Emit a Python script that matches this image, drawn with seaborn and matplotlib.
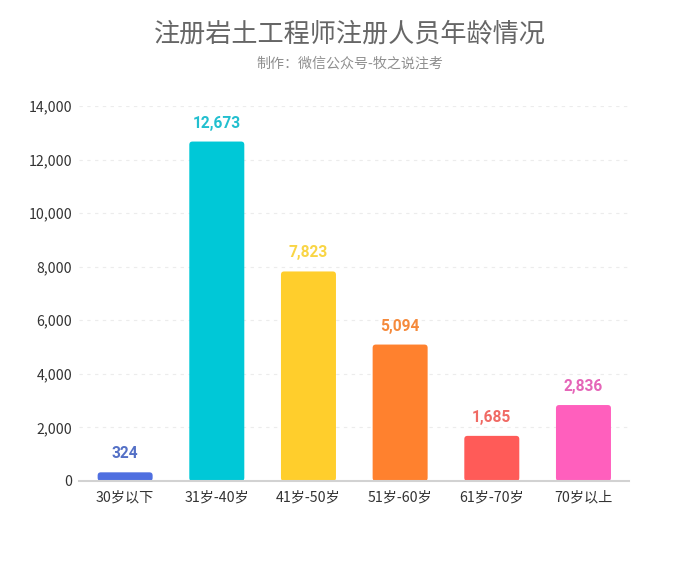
import seaborn as sns
import matplotlib.pyplot as plt
from matplotlib.patches import FancyBboxPatch
from matplotlib.ticker import FuncFormatter

age_groups = ['30岁以下', '31岁-40岁', '41岁-50岁', '51岁-60岁', '61岁-70岁', '70岁以上']
people = [324, 12673, 7823, 5094, 1685, 2836]
bar_colors = ['#4f6fe0', '#00c8d7', '#ffce2c', '#ff812e', '#ff5b58', '#ff5fbd']
label_colors = ['#5470c6', '#22bfcf', '#f9d545', '#f58a3c', '#f06a64', '#e565b8']
y_ticks = [0, 2000, 4000, 6000, 8000, 10000, 12000, 14000]

W, H = 700, 576

sns.set_theme(style='white')
plt.rcParams['font.family'] = ['Noto Sans CJK SC', 'DejaVu Sans']

fig = plt.figure(figsize=(W / 100, H / 100), dpi=100)
ax = fig.add_axes([79.3 / W, 1 - 481 / H, 550 / W, 375 / H])

sns.barplot(x=age_groups, y=people, hue=age_groups, palette=bar_colors,
            width=0.6, legend=False, dodge=False, ax=ax)

ax.set_ylim(0, 14000)
ax.set_xlim(-0.5, 5.5)
ax.set_yticks(y_ticks)
ax.yaxis.set_major_formatter(FuncFormatter(lambda v, p: f'{int(v):,}'))

# swap the square bars for rounded ones, same geometry
aspect = 14000 / 375 / (6 / 550)
for bar, col in zip(list(ax.patches), bar_colors):
    x, w, h = bar.get_x(), bar.get_width(), bar.get_height()
    bar.set_visible(False)
    r = min(0.035, h / aspect / 2)
    ax.add_patch(FancyBboxPatch((x, 0), w, h, boxstyle=f'round,pad=0,rounding_size={r}',
                                mutation_aspect=aspect, fc=col, ec='none', zorder=3))

for i, v in enumerate(people):
    ax.annotate(f'{v:,}', (i, v), xytext=(0, 11), textcoords='offset pixels',
                ha='center', va='bottom', fontsize=11.2, fontweight='bold',
                family='Roboto', color=label_colors[i])

ax.grid(axis='y', color='#ececec', lw=0.8, ls=(0, (3, 4)))
ax.set_axisbelow(True)
sns.despine(ax=ax, left=True)
ax.spines['bottom'].set_color('#d2d2d2')
ax.spines['bottom'].set_linewidth(1.5)
ax.spines['bottom'].set_zorder(4)
ax.tick_params(axis='y', length=4, width=0.8, color='#e0e0e0', labelsize=10.2,
               labelcolor='#333333', pad=1)
ax.tick_params(axis='x', length=3, width=0.8, color='#d2d2d2', labelsize=10.2,
               labelcolor='#333333', pad=4)

fig.text(350 / W, 1 - 34 / H, '注册岩土工程师注册人员年龄情况', ha='center', va='center',
         fontsize=18.8, color='#666666')
fig.text(350 / W, 1 - 64 / H, '制作：微信公众号-牧之说注考', ha='center', va='center',
         fontsize=10.1, color='#8f8f8f')

fig.savefig('out.png', dpi=100, facecolor='white')
